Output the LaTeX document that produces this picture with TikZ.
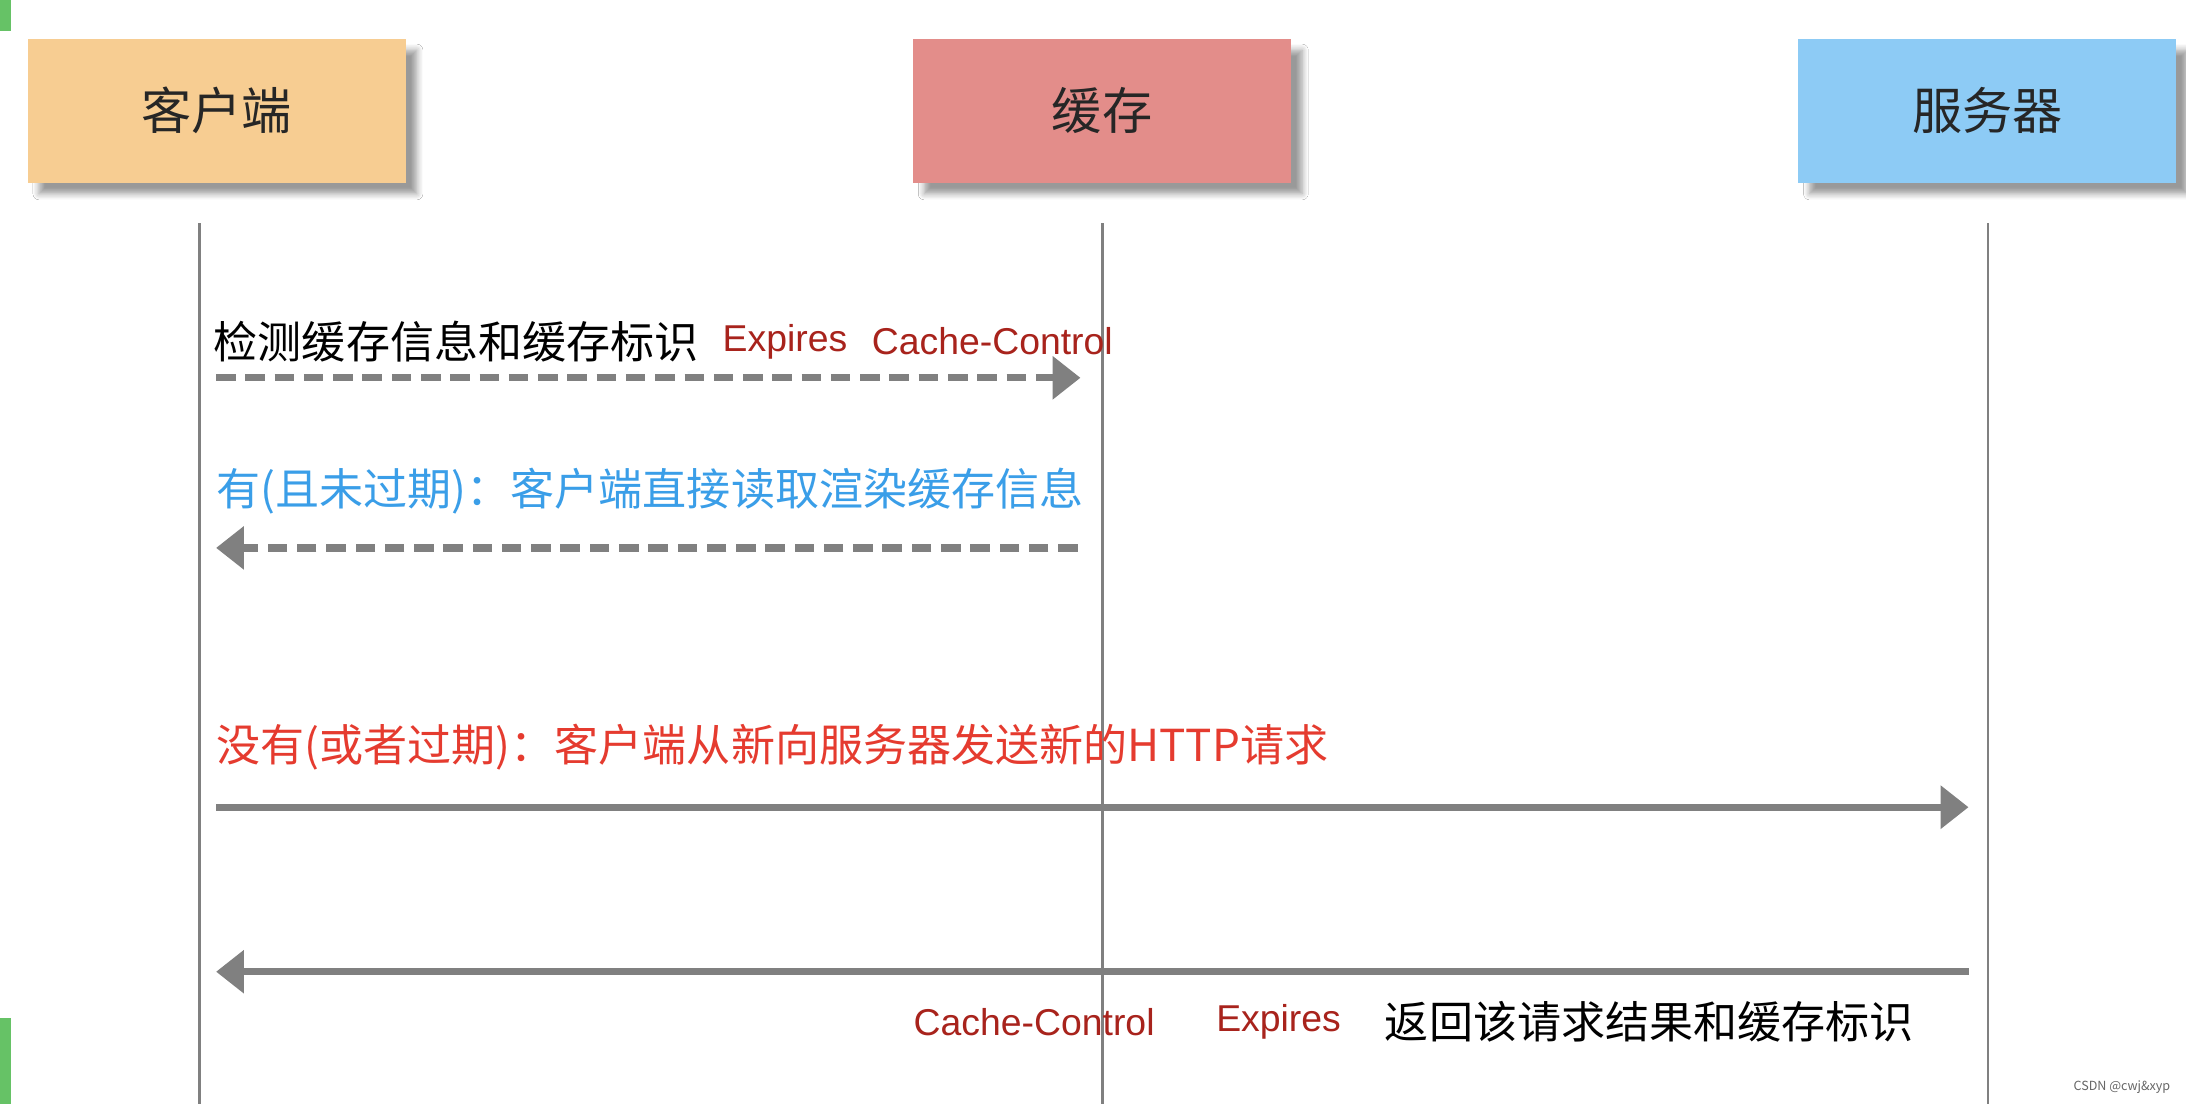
\documentclass[tikz,border=0pt]{standalone}
\usepackage{fontspec}
\setmainfont{Noto Sans CJK SC}
\newfontfamily\lat{Liberation Sans}
\usetikzlibrary{arrows.meta,shadows.blur}
\definecolor{cli}{HTML}{F7CD92}
\definecolor{cac}{HTML}{E38D8A}
\definecolor{srv}{HTML}{8DCBF5}
\definecolor{ln}{HTML}{808080}
\definecolor{dred}{HTML}{A8231C}
\definecolor{lblue}{HTML}{3A9EE8}
\definecolor{lred}{HTML}{E53B2F}
\begin{document}
\begin{tikzpicture}[x=0.5pt,y=-0.5pt,
  actor/.style={minimum width=135.5pt,minimum height=51.5pt,inner sep=0pt,font=\fontsize{18}{20}\selectfont,text=black!85,blur shadow={shadow xshift=4pt,shadow yshift=-4pt,shadow blur steps=6}},
  life/.style={draw=ln,line width=1pt},
  msg/.style={draw=ln,line width=2.6pt,-{Triangle[length=10pt,width=15pt]}},
  dmsg/.style={msg,dash pattern=on 7pt off 3.5pt},
  lbl/.style={font=\fontsize{15.8}{18}\selectfont,anchor=west,inner sep=0pt},
  lat/.style={font=\lat\fontsize{13.4}{15}\selectfont,text=dred,anchor=west,inner sep=0pt}]
\useasboundingbox (0,0) rectangle (1568,792);
\fill[white] (0,0) rectangle (1568,792);
\fill[green!60!black!60] (0,0) rectangle (8,22);
\fill[green!60!black!60] (0,730) rectangle (8,792);
\node[actor,fill=cli] (c) at (155.5,79.5) {客户端};
\node[actor,fill=cac] (k) at (790.5,79.5) {缓存};
\node[actor,fill=srv] (s) at (1425.5,79.5) {服务器};
\coordinate (c0) at (143,160); \coordinate (c1) at (143,792);
\coordinate (k0) at (791,160); \coordinate (k1) at (791,792);
\coordinate (s0) at (1426,160); \coordinate (s1) at (1426,792);
\draw[life] (c0)--(c1); \draw[life] (k0)--(k1); \draw[life] (s0)--(s1);
\coordinate (a1) at (155,271); \coordinate (b1) at (775,271);
\draw[dmsg] (a1)--(b1);
\node[lbl] (t1) at (153,245) {检测缓存信息和缓存标识};
\node[lat] (t1b) at (518,245) {Expires};
\node[lat] (t1c) at (625,245) {Cache-Control};
\node[lbl,text=lblue] (t2) at (155,352) {有(且未过期)：客户端直接读取渲染缓存信息};
\coordinate (a2) at (773,393); \coordinate (b2) at (155,393);
\draw[dmsg] (a2)--(b2);
\node[lbl,text=lred] (t3) at (155,536) {没有(或者过期)：客户端从新向服务器发送新的HTTP请求};
\coordinate (a3) at (155,579); \coordinate (b3) at (1412,579);
\draw[msg] (a3)--(b3);
\coordinate (a4) at (1412,697); \coordinate (b4) at (155,697);
\draw[msg] (a4)--(b4);
\node[lat] (t4) at (655,733) {Cache-Control};
\node[lat] (t5) at (872,733) {Expires};
\node[lbl] (t6) at (993,733) {返回该请求结果和缓存标识};
\node[font=\fontsize{4.5}{5}\selectfont,text=black!60,anchor=east,inner sep=0pt] (w) at (1557,780) {CSDN @cwj\&xyp};
\end{tikzpicture}
\end{document}
